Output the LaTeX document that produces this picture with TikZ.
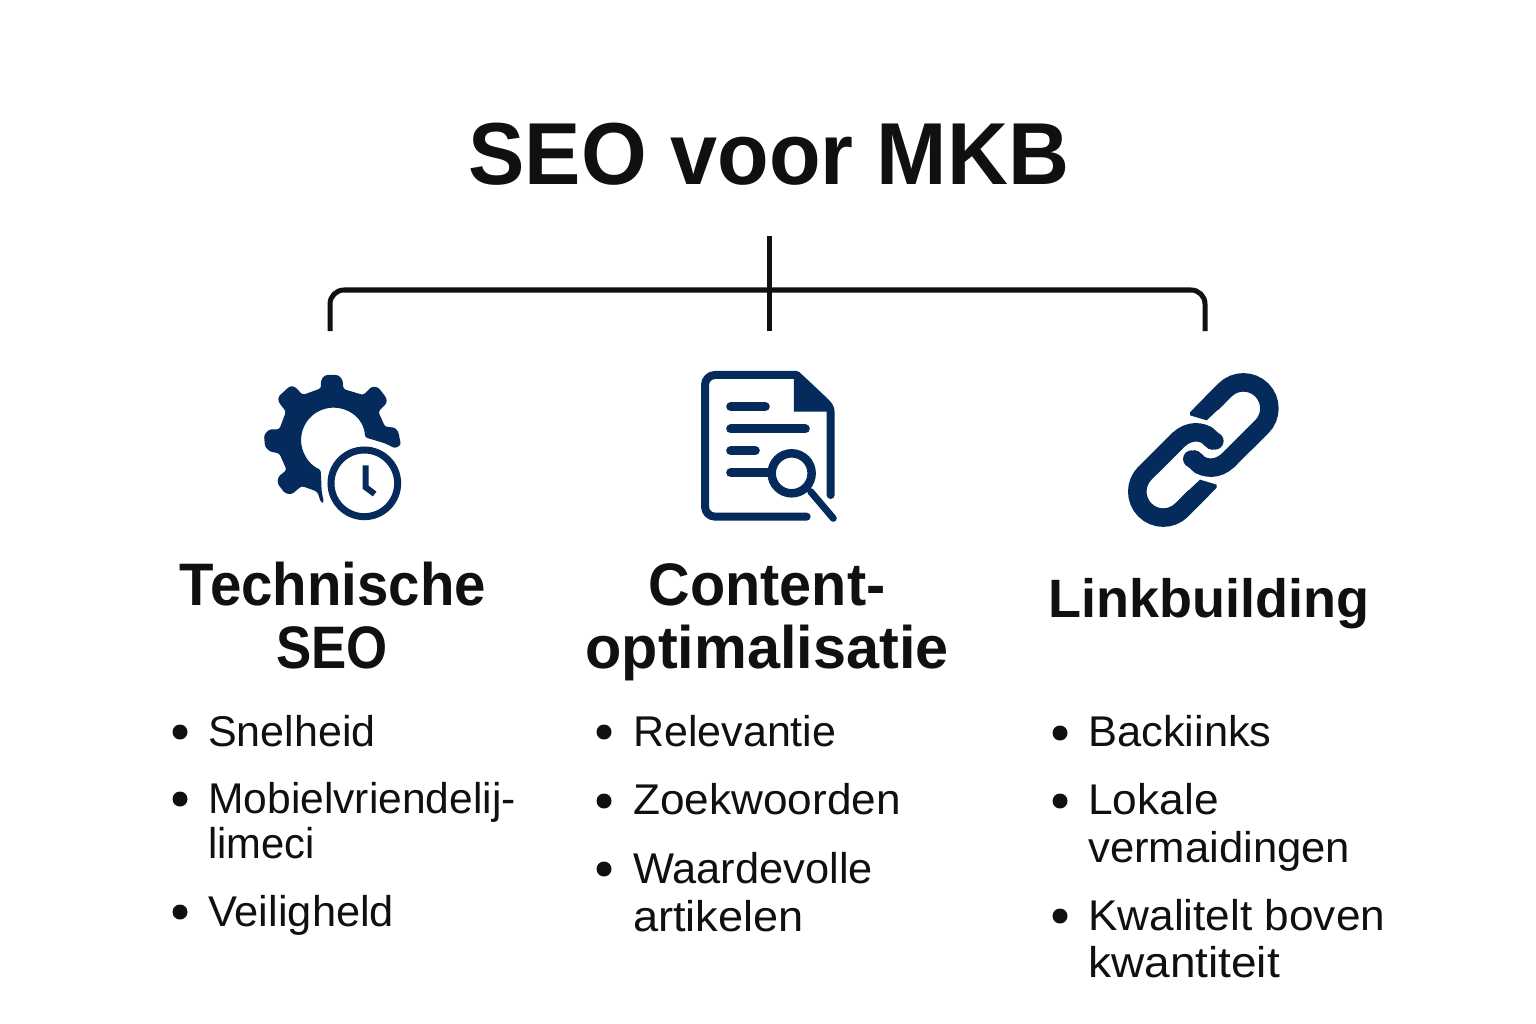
\documentclass[tikz,border=0pt]{standalone}
\usepackage{fontspec}
\usepackage{graphicx}
\setmainfont{Liberation Sans}
\definecolor{navy}{HTML}{042B5C}
\definecolor{ink}{HTML}{0E1012}
\newcommand{\hs}[2]{\scalebox{#1}[1]{#2}}
\tikzset{
  x=1pt,y=-1pt,
  titletext/.style={anchor=base,inner sep=0pt,text=ink,font=\fontsize{88}{88}\selectfont\bfseries},
  headtext/.style={anchor=base,inner sep=0pt,text=ink,font=\fontsize{60}{60}\selectfont\bfseries},
  itemtext/.style={anchor=base west,inner sep=0pt,text=ink,font=\fontsize{43}{43}\selectfont},
  dot/.style={circle,fill=ink,inner sep=0pt,minimum size=15pt},
  bracket/.style={draw=ink,line width=5pt},
  icon/.style={x=0.3333pt,y=-0.3333pt},
  iconline/.style={draw=navy,line width=8pt,line cap=round,line join=round}
}
\begin{document}
\begin{tikzpicture}
\useasboundingbox (0,0) rectangle (1536,1024);
\fill[white] (0,0) rectangle (1536,1024);
% title and bracket
\node[titletext] (title) at (769,185) {\hs{.96}{SEO voor MKB}};
\coordinate (top) at (769,236);
\coordinate (mid) at (769,331);
\coordinate (left) at (330,331);
\coordinate (right) at (1205,331);
\draw[bracket] (left) -- (330,304) arc[start angle=180,end angle=270,radius=14] -- (1191,290) arc[start angle=270,end angle=360,radius=14] -- (right);
\draw[bracket] (top) -- (mid);
% gear + clock
\begin{scope}[shift={(240,360)},icon]
\fill[navy,rounded corners=2.5pt] (243,60) -- (255,45) -- (295,45) -- (308,60) -- (310,87) -- (370,105) -- (395,80) -- (415,82) -- (440,115) -- (440,130) -- (415,155) -- (435,200) -- (465,203) -- (475,215) -- (483,255) -- (465,265) -- (435,250) -- (375,232) -- (374,215)
 arc[start angle=-15,end angle=-247,radius=97]
 -- (245,395) -- (252,428) -- (243,428) -- (232,395) -- (185,378) -- (155,403) -- (135,400) -- (112,370) -- (115,350) -- (140,330) -- (118,280) -- (90,275) -- (75,260) -- (72,225) -- (88,208) -- (118,208) -- (138,155) -- (115,125) -- (115,110) -- (150,78) -- (165,80) -- (188,105) -- (243,85) -- cycle;
 \draw[navy,line width=7pt] (373,370) circle[radius=100];
 \draw[iconline,line width=6pt,line cap=butt,line join=miter] (377,316) -- (377,382) -- (404,402);
\end{scope}
% document
\begin{scope}[shift={(680,360)},icon]
\draw[iconline] (380,470) -- (105,470) arc[start angle=90,end angle=180,radius=30] -- (75,75) arc[start angle=180,end angle=270,radius=30] -- (350,45) -- (435,125) .. controls (448,138) and (452,145) .. (452,160) -- (452,405);
\fill[navy] (342,50) -- (342,155) -- (452,155) -- (440,125) -- (355,40) -- cycle;
\draw[iconline,line width=9pt] (152,140) -- (256,140);
\draw[iconline,line width=9pt] (152,207) -- (376,207);
\draw[iconline,line width=9pt] (152,272) -- (226,272);
\draw[iconline,line width=9pt] (152,338) -- (262,338);
\fill[white] (335,340) circle[radius=50];
\draw[navy,line width=8.5pt] (335,340) circle[radius=60];
\draw[iconline,line width=7pt] (392,395) -- (460,475);
\end{scope}
% link
\begin{scope}[shift={(1115,360)},icon]
\draw[navy,line width=18.5pt,line cap=butt] (290,130) -- (330,90) arc[start angle=-135,end angle=45,radius=78] -- (350,290) .. controls (320,325) and (285,330) .. (255,315) .. controls (245,308) and (240,297) .. (230,297);
\fill[navy] (230,297) circle[radius=26];
\fill[navy] (225,157) -- (225,166) -- (275,181) -- (329,130) -- (271,110) -- cycle;
\draw[navy,line width=18.5pt,line cap=butt] (240,410) -- (200,450) arc[start angle=45,end angle=225,radius=78] -- (180,250) .. controls (210,215) and (245,210) .. (275,225) .. controls (285,232) and (290,243) .. (300,243);
\fill[navy] (300,243) circle[radius=26];
\fill[navy] (305,383) -- (305,374) -- (255,359) -- (201,410) -- (259,430) -- cycle;
\end{scope}
% headings
\node[headtext] (h1a) at (333,605) {\hs{.94}{Technische}};
\node[headtext] (h1b) at (332,668) {\hs{.88}{SEO}};
\node[headtext] (h2a) at (767,605) {\hs{.96}{Content-}};
\node[headtext] (h2b) at (767,668) {\hs{.99}{optimalisatie}};
\node[headtext,font=\fontsize{54}{54}\selectfont\bfseries] (h3) at (1209,617) {Linkbuilding};
% column 1
\node[dot] (d11) at (180,732) {};
\node[itemtext] (t11) at (208,746) {Snelheid};
\node[dot] (d12) at (180,799) {};
\node[itemtext] (t12) at (208,813) {\hs{.99}{Mobielvriendelij-}};
\node[itemtext] (t12b) at (208,858) {\hs{.97}{limeci}};
\node[dot] (d13) at (180,912) {};
\node[itemtext] (t13) at (208,926) {\hs{1.01}{Veiligheld}};
% column 2
\node[dot] (d21) at (604,732) {};
\node[itemtext] (t21) at (633,746) {Relevantie};
\node[dot] (d22) at (604,801) {};
\node[itemtext] (t22) at (633,814) {\hs{1.027}{Zoekwoorden}};
\node[dot] (d23) at (604,869) {};
\node[itemtext] (t23) at (633,883) {\hs{1.01}{Waardevolle}};
\node[itemtext] (t23b) at (633,931) {\hs{1.05}{artikelen}};
% column 3
\node[dot] (d31) at (1060,733) {};
\node[itemtext] (t31) at (1088,746) {\hs{1.01}{Backiinks}};
\node[dot] (d32) at (1060,801) {};
\node[itemtext] (t32) at (1088,814) {\hs{1.03}{Lokale}};
\node[itemtext] (t32b) at (1088,862) {\hs{1.015}{vermaidingen}};
\node[dot] (d33) at (1060,916) {};
\node[itemtext] (t33) at (1088,930) {\hs{1.027}{Kwalitelt boven}};
\node[itemtext] (t33b) at (1088,977) {\hs{1.07}{kwantiteit}};
\end{tikzpicture}
\end{document}
